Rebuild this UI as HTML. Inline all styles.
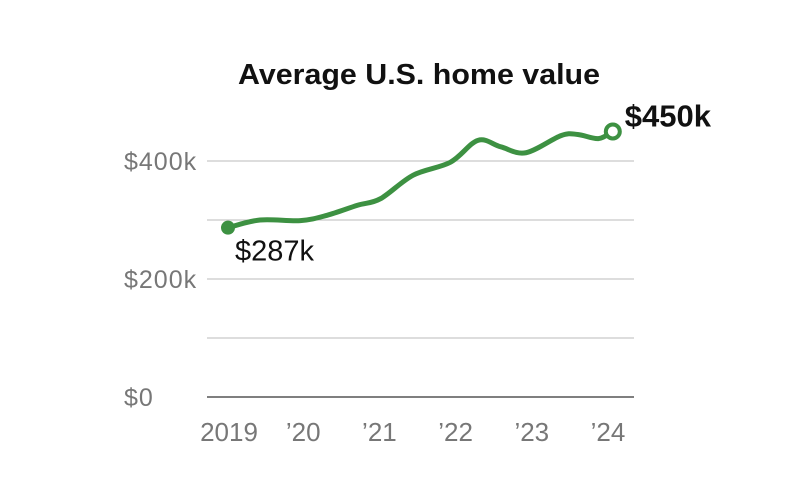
<!DOCTYPE html>
<html><head><meta charset="utf-8"><style>
html,body{margin:0;padding:0;background:#fff;}
svg{display:block;font-family:"Liberation Sans",Arial,sans-serif;}
</style></head><body>
<svg id="chart" width="810" height="490">
<text x="419" y="84" text-anchor="middle" font-size="29" font-weight="bold" fill="#111" textLength="362" lengthAdjust="spacingAndGlyphs">Average U.S. home value</text>
<g id="grid"></g><g id="xaxis"></g><g id="series"></g>
</svg>
<script>
const years = [2019.0,2019.42,2019.95,2020.3,2020.7,2021.0,2021.43,2021.92,2022.28,2022.58,2022.91,2023.37,2023.59,2023.86,2024.05];
const values = [287,300,299,308,325,336,376,398,435,424,414,443,445,438,450];
const yTicks = [0,100,200,300,400];
const yTickLabels = ["$0","","$200k","","$400k"];
const xTicks = [2019,2020,2021,2022,2023,2024];
const xTickLabels = ["2019","\u201920","\u201921","\u201922","\u201923","\u201924"];
const startLabel = "$287k", endLabel = "$450k";

const NS="http://www.w3.org/2000/svg";
const x = v => 228 + (v-2019)*76.2;
const y = v => 397 - v*0.59;
function mk(tag, attrs, parent){const e=document.createElementNS(NS,tag);for(const k in attrs)e.setAttribute(k,attrs[k]);parent.appendChild(e);return e;}
const grid=document.getElementById('grid'), xa=document.getElementById('xaxis'), se=document.getElementById('series');
yTicks.forEach((t,i)=>{
  const l=mk('line',{x1:207,x2:634,y1:y(t),y2:y(t),stroke:t===0?'#555':'#bbb','stroke-width':t===0?1.5:1},grid);
  
  
  if(yTickLabels[i]){
    const tx=mk('text',{x:124,y:y(t)+9,'font-size':25,fill:'#777','letter-spacing':'1'},grid);
    tx.textContent=yTickLabels[i];
    
    
  }
});
xTicks.forEach((t,i)=>{
  const tx=mk('text',{x:x(t)+(i===0?1:-1),y:441,'font-size':26,fill:'#777','text-anchor':'middle'},xa);
  tx.textContent=xTickLabels[i];
  
  
});
const pts=years.map((yr,i)=>[x(yr),y(values[i])]);
let d=`M${pts[0][0]},${pts[0][1]}`;
for(let i=0;i<pts.length-1;i++){
  const p0=pts[Math.max(0,i-1)],p1=pts[i],p2=pts[i+1],p3=pts[Math.min(pts.length-1,i+2)];
  const c1=[p1[0]+(p2[0]-p0[0])/6,p1[1]+(p2[1]-p0[1])/6];
  const c2=[p2[0]-(p3[0]-p1[0])/6,p2[1]-(p3[1]-p1[1])/6];
  d+=` C${c1[0]},${c1[1]} ${c2[0]},${c2[1]} ${p2[0]},${p2[1]}`;
}
const path=mk('path',{d,fill:'none',stroke:'#3d9142','stroke-width':5,'stroke-linecap':'round','stroke-linejoin':'round'},se);


const s=pts[0], e=pts[pts.length-1];
const sd=mk('circle',{cx:s[0],cy:s[1],r:7,fill:'#3d9142'},se);


const ed=mk('circle',{cx:e[0],cy:e[1],r:7,fill:'#fff',stroke:'#3d9142','stroke-width':4},se);


const sl=mk('text',{x:s[0]+7,y:s[1]+33,'font-size':29,fill:'#111'},se);
sl.textContent=startLabel;


const el=mk('text',{x:e[0]+12,y:e[1]-5,'font-size':31,'font-weight':'bold',fill:'#111'},se);
el.textContent=endLabel;


</script>
</body></html>
